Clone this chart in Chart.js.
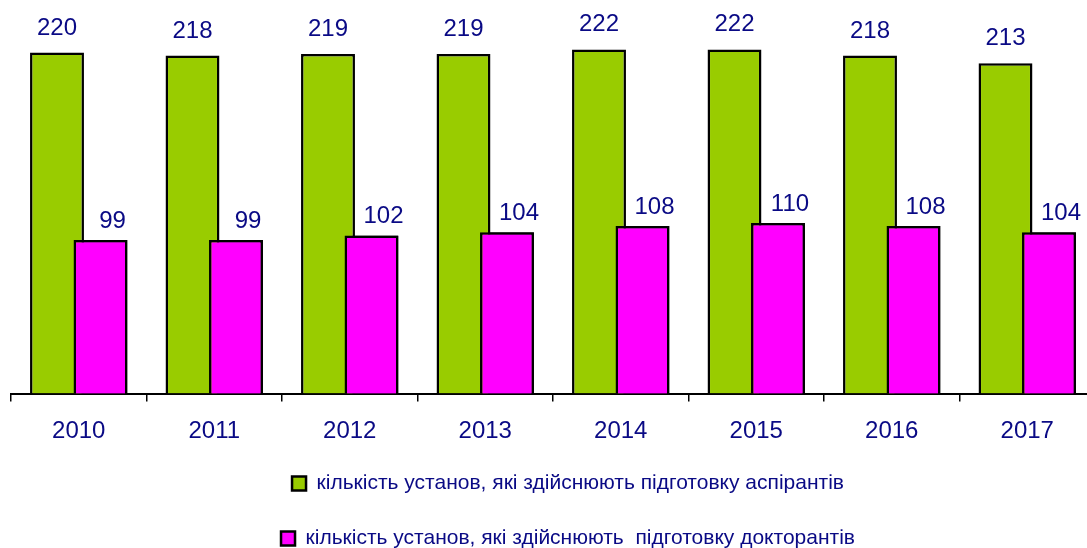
<!DOCTYPE html>
<html>
<head>
<meta charset="utf-8">
<script src="https://cdn.jsdelivr.net/npm/chart.js@4/dist/chart.umd.min.js"></script>
<style>
  html, body { margin: 0; padding: 0; background: #fff; overflow: hidden; }
  #wrap { width: 1100px; height: 559px; }
</style>
</head>
<body>
<div id="wrap"><canvas id="chart"></canvas></div>
<script>
const years = ['2010', '2011', '2012', '2013', '2014', '2015', '2016', '2017'];
const aspirantura = [220, 218, 219, 219, 222, 222, 218, 213];
const doktorantura = [99, 99, 102, 104, 108, 110, 108, 104];
const seriesNames = [
    'кількість установ, які здійснюють підготовку аспірантів',
    'кількість установ, які здійснюють  підготовку докторантів'
];

const navy = '#0a0a85';
const font = '"Liberation Sans", Arial, sans-serif';

// magenta bars overlap the green ones, so draw them again on top, then the value labels
const topBarsAndLabels = {
    id: 'topBarsAndLabels',
    afterLayout(chart) {
        // legend sits a bit right of centre in the original
        chart.legend.left += 15;
        chart.legend.right += 15;
    },
    afterDatasetsDraw(chart) {
        chart.getDatasetMeta(1).controller.draw();
        const ctx = chart.ctx;
        ctx.save();
        ctx.fillStyle = navy;
        ctx.font = '24px ' + font;
        ctx.textAlign = 'center';
        ctx.textBaseline = 'alphabetic';
        chart.data.datasets.forEach((ds, i) => {
            const meta = chart.getDatasetMeta(i);
            meta.data.forEach((bar, j) => {
                const dx = i === 0 ? 0 : 12;
                const dy = i === 0 ? 18 : 12;
                ctx.fillText(String(ds.data[j]), bar.x + dx, bar.y - dy);
            });
        });
        ctx.restore();
    }
};

new Chart(document.getElementById('chart'), {
    type: 'bar',
    data: {
        labels: years,
        datasets: [
            {
                label: seriesNames[0],
                data: aspirantura,
                backgroundColor: '#99CC00',
                borderColor: '#000',
                borderWidth: 2.5,
                borderSkipped: 'bottom'
            },
            {
                label: seriesNames[1],
                data: doktorantura,
                backgroundColor: '#FF00FF',
                borderColor: '#000',
                borderWidth: 2.5,
                borderSkipped: 'bottom'
            }
        ]
    },
    options: {
        responsive: true,
        maintainAspectRatio: false,
        animation: false,
        categoryPercentage: 0.642,
        barPercentage: 1.24,
        layout: { padding: { left: 11, right: 5, top: 6, bottom: 0 } },
        scales: {
            x: {
                grid: { display: true, drawOnChartArea: false, color: '#000', lineWidth: 1.5, tickLength: 8 },
                border: { display: true, color: '#000', width: 2 },
                ticks: { color: navy, font: { family: font, size: 24 }, padding: 15 },
                afterFit(scale) { scale.height = 45.5; }
            },
            y: { display: false, min: 0, max: 250 }
        },
        plugins: {
            legend: {
                position: 'bottom',
                labels: {
                    color: navy,
                    font: { family: font, size: 21 },
                    boxWidth: 14,
                    boxHeight: 14,
                    padding: 34
                }
            },
            tooltip: { enabled: false }
        }
    },
    plugins: [topBarsAndLabels]
});
</script>
</body>
</html>
